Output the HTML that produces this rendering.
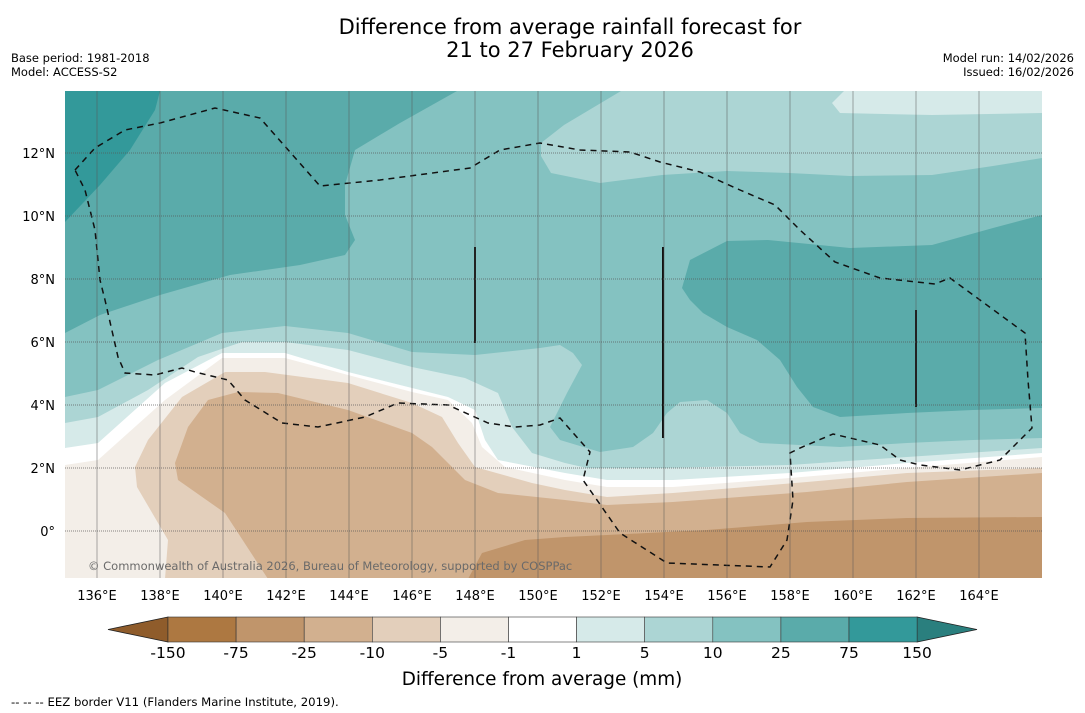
<!DOCTYPE html>
<html><head><meta charset="utf-8"><style>
html,body{margin:0;padding:0;background:#fff;}
svg{display:block;font-family:"DejaVu Sans","Liberation Sans",sans-serif;}
</style></head><body>
<svg id="chart" width="1085" height="713" viewBox="0 0 1085 713">
<text x="570" y="34" text-anchor="middle" font-size="21">Difference from average rainfall forecast for</text>
<text x="570" y="57" text-anchor="middle" font-size="21">21 to 27 February 2026</text>
<text x="11" y="62" font-size="11.5">Base period: 1981-2018</text>
<text x="11" y="76" font-size="11.5">Model: ACCESS-S2</text>
<text x="1074" y="62" font-size="11.5" text-anchor="end">Model run: 14/02/2026</text>
<text x="1074" y="76" font-size="11.5" text-anchor="end">Issued: 16/02/2026</text>
<defs><clipPath id="mapclip"><rect x="65" y="91" width="977" height="487"/></clipPath></defs>
<g id="map" clip-path="url(#mapclip)"></g>
<g id="grid"></g>
<g id="ticks"></g>
<g id="cbar"></g>
<text x="542" y="685" text-anchor="middle" font-size="18.4">Difference from average (mm)</text>
<text x="11" y="706" font-size="11.7">--  --  -- EEZ border V11 (Flanders Marine Institute, 2019).</text>
</svg>
<script>
// Map frame (projected map pixel frame)
const mapX0=65, mapX1=1042, mapY0=91, mapY1=578;
const lonTicks=[136,138,140,142,144,146,148,150,152,154,156,158,160,162,164];
const latTicks=[12,10,8,6,4,2,0];
const cbarLabels=["-150","-75","-25","-10","-5","-1","1","5","10","25","75","150"];
const cbarColors=["#ad7841","#c0956b","#d2b08f","#e3cfbb","#f3eee8","#ffffff","#d6eae9","#acd5d4","#84c2c1","#5aabaa","#33999a"];
// contour fill polygons (projected coordinates)
const nwStrong=[[65,91],[160,91],[155,110],[130,150],[100,185],[65,222]];
const nwWet=[[65,91],[457,91],[400,123],[355,150],[345,185],[345,215],[355,240],[345,255],[300,265],[230,275],[160,295],[100,315],[65,333]];
const nNeutral=[[621,91],[1042,91],[1042,158],[993,166],[932,175],[850,176],[789,173],[727,171],[662,175],[600,183],[551,173],[541,156],[541,143],[564,125]];
const nLight=[[844,91],[1042,91],[1042,113],[932,115],[840,113],[832,103]];
const eWet=[[682,288],[690,260],[727,241],[768,240],[850,248],[932,245],[993,228],[1042,215],[1042,408],[973,410],[907,413],[840,417],[813,407],[797,387],[780,360],[757,340],[727,327],[703,313],[690,300]];
const lt10=[[65,397],[98,390],[158,360],[222,333],[285,326],[348,333],[412,352],[475,355],[540,348],[560,345],[573,353],[582,365],[567,393],[550,427],[560,440],[600,452],[633,447],[653,433],[667,413],[680,402],[707,400],[727,413],[740,433],[760,443],[840,447],[907,443],[973,440],[1042,438]];
const lt5=[[65,423],[98,417],[148,390],[198,357],[242,342],[285,342],[348,350],[412,367],[465,378],[498,393],[512,427],[532,453],[565,463],[587,468],[663,468],[790,465],[907,457],[1042,448]];
const lt1=[[65,448],[98,443],[165,383],[222,353],[285,353],[348,372],[412,388],[448,397],[475,410],[485,440],[498,460],[565,473],[607,480],[673,480],[790,473],[907,463],[1042,453]];
const ltm1=[[65,465],[98,460],[165,400],[222,358],[285,358],[348,375],[412,392],[448,400],[472,423],[482,447],[505,467],[565,480],[607,487],[673,487],[790,478],[907,468],[1042,457]];
const ltm5=[[165,579],[168,540],[137,487],[135,467],[148,440],[182,397],[225,372],[265,372],[348,383],[412,403],[442,417],[458,443],[475,467],[532,483],[565,490],[607,497],[673,493],[807,482],[907,473],[1042,468]];
const ltm10=[[268,579],[225,513],[178,480],[175,463],[188,427],[208,400],[238,392],[278,393],[348,410],[412,433],[432,447],[465,480],[498,493],[565,500],[607,505],[673,502],[807,492],[907,482],[1042,473]];
const ltm25=[[468,579],[482,553],[525,540],[565,537],[607,535],[707,530],[807,522],[907,518],[1042,517]];
const eez=[[75,170],[95,148],[125,130],[160,123],[215,108],[260,118],[320,186],[380,180],[470,168],[475,165],[500,150],[540,143],[580,150],[630,152],[660,162],[700,172],[740,190],[775,205],[800,230],[835,262],[880,278],[935,284],[950,278],[980,300],[1025,333],[1028,380],[1032,428],[1000,460],[960,470],[920,465],[900,460],[880,445],[850,438],[833,434],[800,448],[790,453],[793,500],[787,540],[770,567],[667,563],[620,533],[583,480],[590,452],[560,418],[540,425],[515,427],[488,423],[448,405],[398,403],[365,417],[318,427],[282,423],[245,400],[228,380],[195,372],[182,368],[155,375],[125,373],[118,357],[105,300],[100,280],[95,230],[85,190],[75,170]];
const reefs=[[475,247,343],[663,247,438],[916,310,407]];

const NS="http://www.w3.org/2000/svg";
const lonToX=l=>97+(l-136)*31.5;
const latToY=l=>531-l*31.5;
function mk(tag,parent){const e=document.createElementNS(NS,tag);parent.appendChild(e);return e;}
const map=document.getElementById('map');
const bg=mk('rect',map);


bg.setAttribute('x',mapX0);bg.setAttribute('y',mapY0);bg.setAttribute('width',mapX1-mapX0);bg.setAttribute('height',mapY1-mapY0);bg.setAttribute('fill','#84c2c1');
function poly(pts,fill,name,closeBottom){
  const p=mk('polygon',map);
  
  
  let a=pts.slice();
  if(closeBottom){a.push([1042,579]);a.push([a[0][0]<=65?65:a[0][0],579]);if(a[0][0]<=65)a.push([65,579]);}
  p.setAttribute('points',a.map(q=>q.join(',')).join(' '));
  p.setAttribute('fill',fill);
}
poly(nwWet,'#5aabaa','contour-nw-25-75',false);
poly(nwStrong,'#33999a','contour-nw-75-150',false);
poly(nNeutral,'#acd5d4','contour-north-5-10',false);
poly(nLight,'#d6eae9','contour-north-1-5',false);
poly(eWet,'#5aabaa','contour-east-25-75',false);
poly(lt10,'#acd5d4','contour-south-5-10',true);
poly(lt5,'#d6eae9','contour-south-1-5',true);
poly(lt1,'#ffffff','contour-south-neutral',true);
poly(ltm1,'#f3eee8','contour-south-minus1-5',true);
poly(ltm5,'#e3cfbb','contour-south-minus5-10',true);
poly(ltm10,'#d2b08f','contour-south-minus10-25',true);
poly(ltm25,'#c0956b','contour-south-minus25-75',true);
const pl=mk('polyline',map);


pl.setAttribute('points',eez.map(q=>q.join(',')).join(' '));
pl.setAttribute('fill','none');pl.setAttribute('stroke','#111');pl.setAttribute('stroke-width','1.5');pl.setAttribute('stroke-dasharray','6,5');
reefs.forEach(r=>{const l=mk('line',map);
  
  
  l.setAttribute('x1',r[0]);l.setAttribute('x2',r[0]);l.setAttribute('y1',r[1]);l.setAttribute('y2',r[2]);l.setAttribute('stroke','#111');l.setAttribute('stroke-width','2');});
const cp=mk('text',map);


cp.setAttribute('x',88);cp.setAttribute('y',570);cp.setAttribute('font-size','11.5');cp.setAttribute('fill','#6a6a6a');
cp.textContent='© Commonwealth of Australia 2026, Bureau of Meteorology, supported by COSPPac';

const grid=document.getElementById('grid'), ticks=document.getElementById('ticks');
lonTicks.forEach(l=>{const x=lonToX(l);
  const g=mk('line',grid);
  
  
  g.setAttribute('x1',x);g.setAttribute('x2',x);g.setAttribute('y1',mapY0);g.setAttribute('y2',mapY1);g.setAttribute('stroke','#555');g.setAttribute('stroke-opacity','0.5');g.setAttribute('stroke-width','1');
  const t=mk('text',ticks);
  
  
  t.setAttribute('x',x);t.setAttribute('y',600);t.setAttribute('text-anchor','middle');t.setAttribute('font-size','13');
  t.textContent=l+'°E';});
latTicks.forEach(l=>{const y=latToY(l);
  const g=mk('line',grid);
  
  
  g.setAttribute('x1',mapX0);g.setAttribute('x2',mapX1);g.setAttribute('y1',y);g.setAttribute('y2',y);g.setAttribute('stroke','#555');g.setAttribute('stroke-opacity','0.7');g.setAttribute('stroke-dasharray','1,1');
  const t=mk('text',ticks);
  
  
  t.setAttribute('x',55);t.setAttribute('y',y+5);t.setAttribute('text-anchor','end');t.setAttribute('font-size','13');
  t.textContent=l===0?'0°':l+'°N';});

const cb=document.getElementById('cbar');
const cx0=168,cw=68.1,cy=617,ch=25;
const lt=mk('polygon',cb);


lt.setAttribute('points',`${cx0},${cy} 108,${cy+ch/2} ${cx0},${cy+ch}`);lt.setAttribute('fill','#8f5c2b');lt.setAttribute('stroke','#222');lt.setAttribute('stroke-width','0.8');
const nb=cbarColors.length;
const rt=mk('polygon',cb);


const ex=cx0+nb*cw;
rt.setAttribute('points',`${ex},${cy} 977,${cy+ch/2} ${ex},${cy+ch}`);rt.setAttribute('fill','#2a7f7e');rt.setAttribute('stroke','#222');rt.setAttribute('stroke-width','0.8');
cbarColors.forEach((c,i)=>{const r=mk('rect',cb);
  
  
  r.setAttribute('x',cx0+i*cw);r.setAttribute('y',cy);r.setAttribute('width',cw);r.setAttribute('height',ch);r.setAttribute('fill',c);r.setAttribute('stroke','#333');r.setAttribute('stroke-width','0.6');});
cbarLabels.forEach((s,i)=>{const t=mk('text',cb);
  
  
  t.setAttribute('x',cx0+i*cw);t.setAttribute('y',658);t.setAttribute('text-anchor','middle');t.setAttribute('font-size','15.5');
  t.textContent=s;});
</script>
</body></html>
